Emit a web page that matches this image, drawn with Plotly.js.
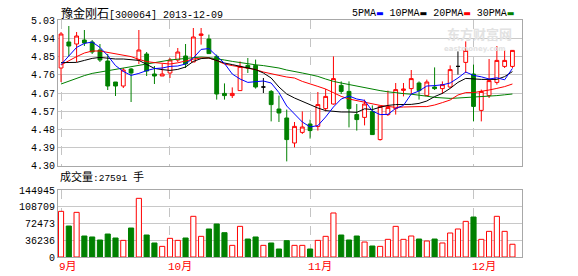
<!DOCTYPE html>
<html>
<head>
<meta charset="utf-8">
<script src="https://cdn.plot.ly/plotly-3.0.1.min.js"></script>
<style>html,body{margin:0;padding:0;background:#fff;}#chart{width:578px;height:276px;}</style>
</head>
<body>
<div id="chart"></div>
<script>
// ---- data ----
const dates = ["2013-09-09","2013-09-10","2013-09-11","2013-09-12","2013-09-13","2013-09-16","2013-09-17","2013-09-18","2013-09-23","2013-09-24","2013-09-25","2013-09-26","2013-09-27","2013-09-30",
"2013-10-08","2013-10-09","2013-10-10","2013-10-11","2013-10-14","2013-10-15","2013-10-16","2013-10-17","2013-10-18","2013-10-21","2013-10-22","2013-10-23","2013-10-24","2013-10-25","2013-10-28","2013-10-29","2013-10-30","2013-10-31",
"2013-11-01","2013-11-04","2013-11-05","2013-11-06","2013-11-07","2013-11-08","2013-11-11","2013-11-12","2013-11-13","2013-11-14","2013-11-15","2013-11-18","2013-11-19","2013-11-20","2013-11-21","2013-11-22","2013-11-25","2013-11-26","2013-11-27","2013-11-28","2013-11-29",
"2013-12-02","2013-12-03","2013-12-04","2013-12-05","2013-12-06","2013-12-09"];
const open  = [4.79,4.92,4.91,4.93,4.92,4.88,4.825,4.72,4.70,4.785,4.83,4.86,4.76,4.75,4.765,4.83,4.85,4.82,4.953,4.935,4.848,4.663,4.652,4.677,4.803,4.803,4.695,4.673,4.585,4.54,4.415,4.468,4.51,4.498,4.587,4.61,4.703,4.673,4.557,4.543,4.573,4.432,4.557,4.587,4.678,4.687,4.715,4.652,4.695,4.687,4.695,4.798,4.818,4.76,4.578,4.652,4.718,4.798,4.798];
const high  = [4.97,5.00,4.97,4.98,4.93,4.91,4.86,4.72,4.79,4.79,4.98,4.87,4.80,4.81,4.84,4.89,4.91,4.99,4.99,4.957,4.857,4.713,4.693,4.823,4.84,4.832,4.74,4.68,4.652,4.582,4.52,4.573,4.532,4.67,4.685,4.848,4.723,4.723,4.61,4.632,4.603,4.60,4.677,4.715,4.715,4.78,4.723,4.732,4.793,4.723,4.803,4.873,4.923,4.807,4.682,4.835,4.90,4.88,4.88];
const low   = [4.72,4.85,4.82,4.90,4.86,4.82,4.68,4.65,4.69,4.62,4.81,4.75,4.71,4.75,4.74,4.82,4.79,4.82,4.907,4.86,4.632,4.632,4.64,4.677,4.765,4.687,4.665,4.523,4.52,4.323,4.393,4.46,4.437,4.477,4.573,4.607,4.66,4.493,4.477,4.503,4.455,4.427,4.55,4.557,4.648,4.657,4.632,4.65,4.68,4.66,4.69,4.757,4.765,4.523,4.523,4.64,4.707,4.79,4.79];
const close = [4.96,4.90,4.95,4.915,4.87,4.83,4.70,4.70,4.78,4.765,4.88,4.775,4.75,4.76,4.83,4.87,4.81,4.945,4.96,4.862,4.66,4.652,4.663,4.798,4.79,4.695,4.695,4.607,4.565,4.432,4.498,4.495,4.477,4.607,4.648,4.737,4.673,4.587,4.532,4.61,4.457,4.598,4.593,4.682,4.685,4.737,4.677,4.72,4.687,4.707,4.782,4.798,4.878,4.598,4.673,4.727,4.828,4.828,4.878];
const volume = [98800,67000,96600,45400,43300,36800,49700,41100,36000,62700,126900,47600,30300,23000,40400,36000,41100,88000,44700,60600,71400,52600,25200,66300,38900,43300,25200,30300,17300,35300,
25200,25200,17300,36000,44700,95200,47600,36800,45400,32400,23800,23000,38200,66300,38200,45400,38900,34600,38900,30300,51900,60600,77100,86500,38200,55500,88000,55500,27591];
const ma5  = [4.807,4.848,4.893,4.913,4.920,4.893,4.852,4.802,4.773,4.753,4.763,4.777,4.787,4.790,4.798,4.800,4.810,4.840,4.883,4.887,4.850,4.813,4.760,4.735,4.718,4.720,4.725,4.715,4.667,4.600,4.558,4.520,4.495,4.502,4.545,4.595,4.635,4.650,4.635,4.628,4.575,4.557,4.558,4.588,4.603,4.660,4.675,4.700,4.702,4.706,4.715,4.740,4.770,4.753,4.746,4.735,4.741,4.731,4.788];
const ma10 = [4.817,4.818,4.818,4.828,4.838,4.843,4.838,4.835,4.835,4.832,4.828,4.808,4.788,4.782,4.778,4.783,4.795,4.823,4.837,4.840,4.827,4.815,4.807,4.798,4.790,4.782,4.765,4.740,4.695,4.660,4.640,4.623,4.603,4.590,4.577,4.573,4.570,4.570,4.568,4.586,4.582,4.594,4.603,4.607,4.608,4.608,4.613,4.625,4.647,4.663,4.688,4.718,4.738,4.735,4.733,4.733,4.733,4.747,4.772];
const ma20 = [4.805,4.827,4.847,4.865,4.875,4.875,4.868,4.862,4.855,4.847,4.833,4.822,4.817,4.813,4.810,4.816,4.826,4.834,4.840,4.840,4.827,4.810,4.802,4.795,4.790,4.782,4.770,4.760,4.753,4.745,4.740,4.723,4.712,4.698,4.685,4.665,4.648,4.635,4.627,4.620,4.610,4.603,4.598,4.593,4.595,4.597,4.597,4.597,4.605,4.617,4.630,4.655,4.667,4.667,4.672,4.680,4.688,4.697,4.710];
const ma30 = [4.710,4.725,4.738,4.752,4.763,4.770,4.777,4.783,4.788,4.797,4.805,4.812,4.818,4.824,4.830,4.834,4.838,4.842,4.845,4.842,4.837,4.830,4.823,4.817,4.810,4.806,4.802,4.796,4.790,4.780,4.771,4.765,4.757,4.748,4.735,4.723,4.715,4.707,4.698,4.690,4.683,4.677,4.671,4.665,4.662,4.659,4.655,4.649,4.643,4.640,4.638,4.640,4.642,4.645,4.647,4.650,4.652,4.656,4.660];
const monthStarts = ["2013-09-09","2013-10-08","2013-11-01","2013-12-02"];
const monthLabels = ["9月","10月","11月","12月"];
const priceTicks = ["4.30","4.39","4.48","4.57","4.67","4.76","4.85","4.94","5.03"];
const volTicks = ["0","36236","72473","108709","144945"];
const maNames = ["5PMA","10PMA","20PMA","30PMA"];

// ---- build ----
const RED = "#ff0000", GREEN = "#008000";
function pick(cond) {
  const o = {x:[],open:[],high:[],low:[],close:[]};
  dates.forEach((d,i)=>{ if(cond(i)){ o.x.push(d); o.open.push(open[i]); o.high.push(high[i]); o.low.push(low[i]); o.close.push(close[i]); }});
  return o;
}
function candle(sel, lineCol, fill) {
  return Object.assign({type:"candlestick", xaxis:"x", yaxis:"y", whiskerwidth:0, hoverinfo:"skip",
    increasing:{line:{color:lineCol,width:1}, fillcolor:fill},
    decreasing:{line:{color:lineCol,width:1}, fillcolor:fill}}, sel);
}
const up = pick(i=>close[i]>open[i]);
const dn = pick(i=>close[i]<open[i]);
const flat = pick(i=>close[i]===open[i]);

const traces = [
  candle(up, RED, "#ffffff"),
  candle(dn, GREEN, GREEN),
  candle(flat, "#000000", "#000000"),
  {type:"scatter", mode:"lines", x:dates, y:ma30, line:{color:GREEN,width:1}, hoverinfo:"skip", xaxis:"x", yaxis:"y"},
  {type:"scatter", mode:"lines", x:dates, y:ma20, line:{color:RED,width:1}, hoverinfo:"skip", xaxis:"x", yaxis:"y"},
  {type:"scatter", mode:"lines", x:dates, y:ma10, line:{color:"#000000",width:1}, hoverinfo:"skip", xaxis:"x", yaxis:"y"},
  {type:"scatter", mode:"lines", x:dates, y:ma5, line:{color:"#0000ff",width:1}, hoverinfo:"skip", xaxis:"x", yaxis:"y"},
  {type:"bar", x:dates, y:volume, xaxis:"x", yaxis:"y2", width:0.66, hoverinfo:"skip",
   marker:{color:dates.map((d,i)=>close[i]<open[i]?GREEN:"#ffffff"),
           line:{color:dates.map((d,i)=>close[i]<open[i]?GREEN:RED), width:1}}}
];

const tickFont = {family:"Liberation Mono, DejaVu Sans Mono, monospace", size:10, color:"#000"};
const pv = priceTicks.map((t,k)=>4.30 + k*(5.03-4.30)/8);
const vv = volTicks.map((t,k)=>k*144945/4);

const annotations = monthStarts.map((d,k)=>({x:d, xref:"x", y:-0.043, yref:"paper", xanchor:"left", yanchor:"middle", xshift:-4,
  text:monthLabels[k], showarrow:false, font:{family:"Liberation Mono, Noto Sans CJK SC", size:11, color:RED}}));
annotations.push({x:0.003, xref:"paper", y:1.026, yref:"paper", xanchor:"left", yanchor:"middle", showarrow:false,
  text:'<span style="font-size:12px">豫金刚石</span>[300064] 2013-12-09', font:{family:"Liberation Mono, Noto Sans CJK SC", size:10, color:"#000"}});
annotations.push({x:0.0, xref:"paper", y:0.338, yref:"paper", xanchor:"left", yanchor:"middle", showarrow:false,
  text:'<span style="font-size:11px">成交量</span>:27591 <span style="font-size:11px">手</span>', font:{family:"Liberation Mono, Noto Sans CJK SC", size:9.5, color:"#000"}});
const maCols = ["#0000ff","#000000",RED,GREEN];
annotations.push({x:0.63, xref:"paper", y:1.026, yref:"paper", xanchor:"left", yanchor:"middle", showarrow:false,
  text: maNames.map((n,k)=>n+'<span style="color:'+maCols[k]+';font-family:DejaVu Sans;font-size:8px">▬</span>').join(" "),
  font:{family:"Liberation Mono, monospace", size:10, color:"#000"}});
annotations.push({x:0.98, xref:"paper", y:0.943, yref:"paper", xanchor:"right", yanchor:"middle", showarrow:false, borderpad:0,
  text:"<b>东方财富网</b>", font:{family:"Noto Sans CJK SC", size:13, color:"#e2e2e2"}});
annotations.push({x:0.968, xref:"paper", y:0.877, yref:"paper", xanchor:"right", yanchor:"middle", showarrow:false, borderpad:0,
  text:"<b>eastmoney.com</b>", font:{family:"DejaVu Sans", size:7, color:"#e2e2e2"}});

const layout = {
  width:578, height:276, margin:{l:58, r:56, t:20, b:19}, paper_bgcolor:"#fff", plot_bgcolor:"#fff",
  showlegend:false, hovermode:false, dragmode:false,
  xaxis:{type:"category", categoryorder:"array", categoryarray:dates, range:[-0.39,59.23], anchor:"y2",
         rangeslider:{visible:false}, showgrid:true, gridcolor:"#c4c4c4", griddash:"dash", gridwidth:1,
         tickvals:monthStarts, showticklabels:false, ticks:"", showline:true, mirror:"all", linecolor:"#a8a8a8", zeroline:false},
  yaxis:{domain:[0.384,1], range:[4.30,5.03], tickvals:pv, ticktext:priceTicks, showgrid:true, gridcolor:"#c8c8c8",
         showline:true, mirror:true, linecolor:"#a8a8a8", zeroline:false, ticks:"", tickfont:tickFont},
  yaxis2:{domain:[0,0.2827], range:[0,144945], tickvals:vv, ticktext:volTicks, showgrid:true, gridcolor:"#c8c8c8",
         showline:true, mirror:true, linecolor:"#a8a8a8", zeroline:false, ticks:"", tickfont:tickFont},
  bargap:0.3, annotations:annotations
};
Plotly.newPlot("chart", traces, layout, {staticPlot:true, displayModeBar:false});
</script>
</body>
</html>
